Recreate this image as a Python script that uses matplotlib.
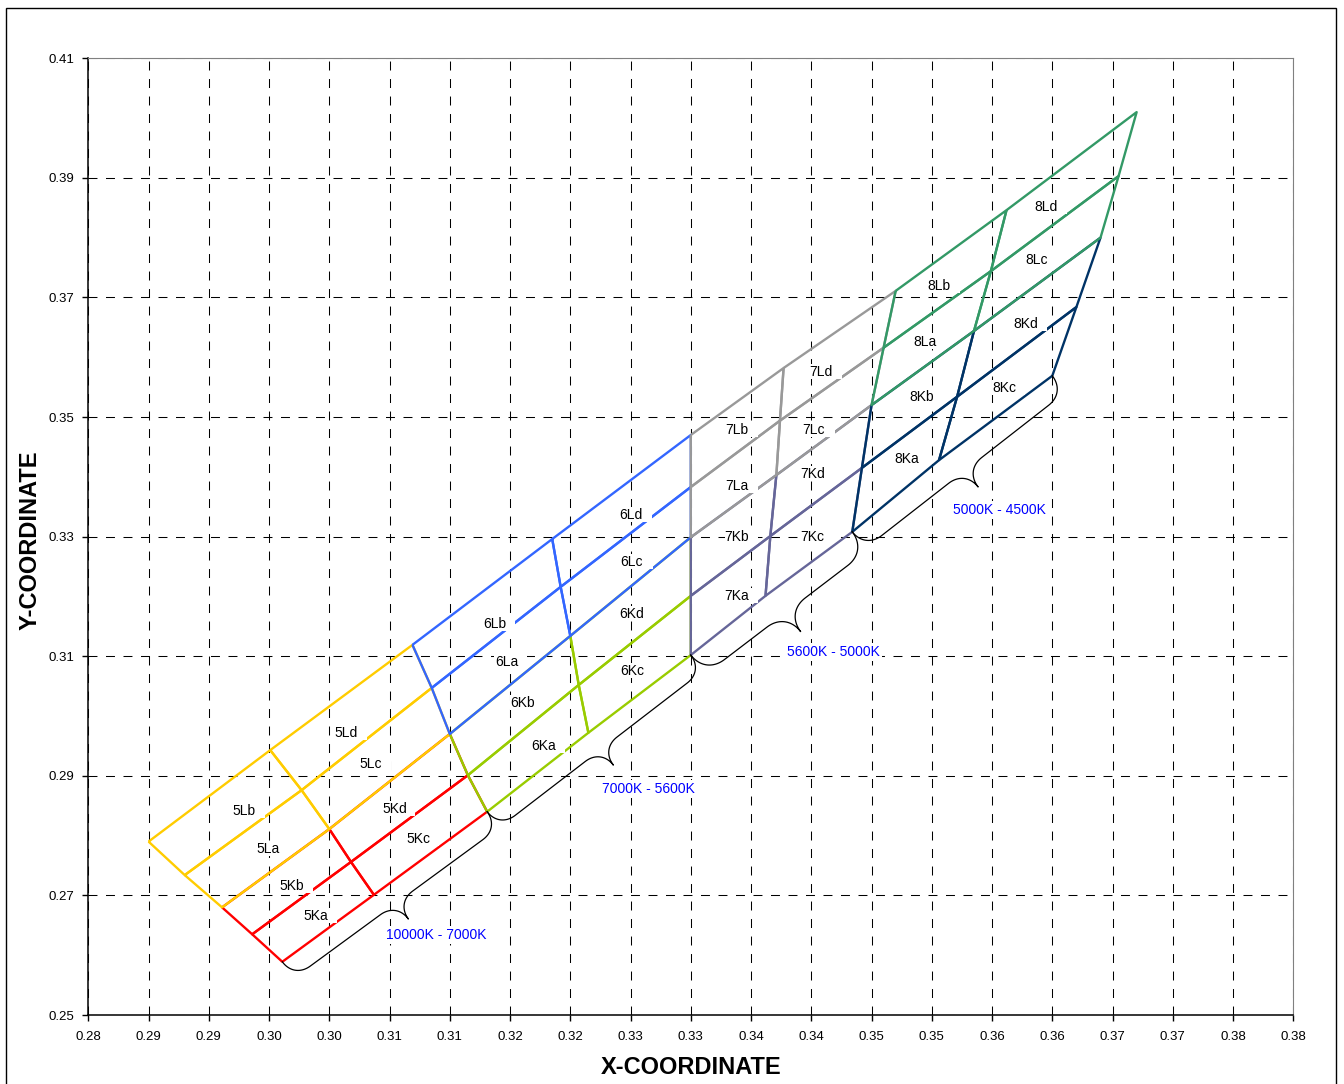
import numpy as np
import matplotlib
matplotlib.use("Agg")
import matplotlib.pyplot as plt
import matplotlib.transforms as mtransforms
from matplotlib.patches import Rectangle

plt.rcParams['font.family'] = ['Liberation Sans', 'DejaVu Sans']

# CCT boundary lines, each listed from the top edge (Lb/Ld) down to the bottom edge (Ka/Kc)
# 10000K, 5-mid, 7000K, 6-mid, 5600K, 7-mid, 5000K, 8-mid, 4500K
line_x = [
    [0.2850, 0.2880, 0.2911, 0.2936, 0.2961],
    [0.2951, 0.2977, 0.3000, 0.3018, 0.3037],
    [0.3069, 0.3085, 0.3100, 0.3115, 0.3131],
    [0.3185, 0.3192, 0.3200, 0.3207, 0.3215],
    [0.3300, 0.3300, 0.3300, 0.3300, 0.3300],
    [0.3377, 0.3374, 0.3371, 0.3366, 0.3362],
    [0.3470, 0.3460, 0.3450, 0.3442, 0.3434],
    [0.3562, 0.3549, 0.3535, 0.3521, 0.3506],
    [0.3670, 0.3655, 0.3640, 0.3620, 0.3600],
]
line_y = [
    [0.2790, 0.2734, 0.2680, 0.2635, 0.2589],
    [0.2943, 0.2876, 0.2811, 0.2756, 0.2701],
    [0.3119, 0.3047, 0.2970, 0.2901, 0.2840],
    [0.3296, 0.3216, 0.3134, 0.3052, 0.2972],
    [0.3470, 0.3383, 0.3299, 0.3201, 0.3102],
    [0.3582, 0.3494, 0.3403, 0.3301, 0.3201],
    [0.3711, 0.3616, 0.3520, 0.3415, 0.3308],
    [0.3846, 0.3744, 0.3644, 0.3534, 0.3428],
    [0.4010, 0.3903, 0.3800, 0.3684, 0.3569],
]

groups = ['5', '6', '7', '8']
k_colors = ['#FF0000', '#99CC00', '#666699', '#003366']
l_colors = ['#FFCC00', '#3366FF', '#999999', '#339966']

bin_labels = ['5Ka', '5Kb', '5Kc', '5Kd', '5La', '5Lb', '5Lc', '5Ld',
              '6Ka', '6Kb', '6Kc', '6Kd', '6La', '6Lb', '6Lc', '6Ld',
              '7Ka', '7Kb', '7Kc', '7Kd', '7La', '7Lb', '7Lc', '7Ld',
              '8Ka', '8Kb', '8Kc', '8Kd', '8La', '8Lb', '8Lc', '8Ld']
bin_label_x = [0.2989, 0.2969, 0.3074, 0.3054, 0.2949, 0.2929, 0.3034, 0.3014,
               0.3178, 0.3160, 0.3251, 0.3251, 0.3147, 0.3137, 0.3251, 0.3250,
               0.3338, 0.3338, 0.3401, 0.3401, 0.3338, 0.3338, 0.3402, 0.3408,
               0.3479, 0.3492, 0.3560, 0.3578, 0.3494, 0.3506, 0.3587, 0.3595]
bin_label_y = [0.2666, 0.2716, 0.2794, 0.2844, 0.2778, 0.2842, 0.2920, 0.2972,
               0.2950, 0.3022, 0.3075, 0.3171, 0.3091, 0.3154, 0.3258, 0.3336,
               0.3201, 0.3299, 0.3299, 0.3405, 0.3385, 0.3478, 0.3478, 0.3575,
               0.3430, 0.3534, 0.3549, 0.3656, 0.3626, 0.3719, 0.3762, 0.3851]

brace_text = ['10000K - 7000K', '7000K - 5600K', '5600K - 5000K', '5000K - 4500K']
brace_text_x = [0.3089, 0.3265, 0.3418, 0.3556]
brace_text_y = [0.2634, 0.2878, 0.3107, 0.3344]
brace_depth = [40, 40, 48, 42]  # pixels

x_tick_labels = ['0.28', '0.29', '0.29', '0.30', '0.30', '0.31', '0.31', '0.32', '0.32', '0.33', '0.33',
                 '0.34', '0.34', '0.35', '0.35', '0.36', '0.36', '0.37', '0.37', '0.38', '0.38']
y_tick_labels = ['0.25', '0.27', '0.29', '0.31', '0.33', '0.35', '0.37', '0.39', '0.41']

W, H = 1344, 1084
fig = plt.figure(figsize=(W / 100, H / 100), dpi=100)
ax = fig.add_axes([88.3 / W, 1 - 1015 / H, (1293.3 - 88.3) / W, (1015 - 58.3) / H])
ax.set_xlim(0.28, 0.38)
ax.set_ylim(0.25, 0.41)

ax.set_xticks(np.linspace(0.28, 0.38, len(x_tick_labels)))
ax.set_xticklabels(x_tick_labels, fontsize=9.5)
ax.set_yticks(np.linspace(0.25, 0.41, len(y_tick_labels)))
ax.set_yticklabels(y_tick_labels, fontsize=9.5)
ax.tick_params(axis='x', direction='out', length=4, width=1, pad=7.5)
ax.tick_params(axis='y', direction='out', length=4, width=1, pad=6)
ax.set_axisbelow(True)
ax.grid(True, color='black', lw=0.75, linestyle=(0, (8.6, 8.2)))
for s in ['top', 'right']:
    ax.spines[s].set_color('#808080')
for s in ['left', 'bottom']:
    ax.spines[s].set_color('black')
    ax.spines[s].set_linewidth(1.1)

# bins: draw K rows first then L rows, group by group
for g in range(len(groups)):
    a, m, b = 2 * g, 2 * g + 1, 2 * g + 2
    for rows, color in [((2, 3), k_colors[g]), ((0, 1), l_colors[g])]:
        for i in rows:
            for p, q in [(a, m), (m, b)]:
                xs = [line_x[p][i], line_x[p][i + 1], line_x[q][i + 1], line_x[q][i], line_x[p][i]]
                ys = [line_y[p][i], line_y[p][i + 1], line_y[q][i + 1], line_y[q][i], line_y[p][i]]
                ax.plot(xs, ys, color=color, lw=1.7, zorder=2, solid_capstyle='butt')

# labels with their white boxes (boxes reach a bit to the right / below the text)
for lab, x, y in zip(bin_labels, bin_label_x, bin_label_y):
    t = fig.dpi_scale_trans + mtransforms.ScaledTranslation(x, y, ax.transData)
    ax.add_patch(Rectangle((-0.12, -0.07), 0.33, 0.15, transform=t,
                           facecolor='white', edgecolor='none', zorder=3))
    ax.text(x, y, lab, fontsize=10, ha='center', va='center', zorder=4)


def cubic(p0, c1, c2, p3, k=24):
    p0, c1, c2, p3 = map(np.asarray, (p0, c1, c2, p3))
    t = np.linspace(0, 1, k)[:, None]
    return (1 - t) ** 3 * p0 + 3 * (1 - t) ** 2 * t * c1 + 3 * (1 - t) * t ** 2 * c2 + t ** 3 * p3


def brace(p1, p2, depth):
    P1 = ax.transData.transform(p1)
    P2 = ax.transData.transform(p2)
    d = P2 - P1
    L = np.hypot(*d)
    u = d / L
    n = np.array([u[1], -u[0]])
    r = depth / 2
    mid = L / 2
    st = np.vstack([
        cubic((0, 0), (0, 0.6 * r), (0.4 * r, r), (r, r)),
        [[mid - r, r]],
        cubic((mid - r, r), (mid - 0.4 * r, r), (mid, 1.4 * r), (mid, 2 * r)),
        cubic((mid, 2 * r), (mid, 1.4 * r), (mid + 0.4 * r, r), (mid + r, r)),
        [[L - r, r]],
        cubic((L - r, r), (L - 0.4 * r, r), (L, 0.6 * r), (L, 0)),
    ])
    pts = P1 + st[:, :1] * u + st[:, 1:] * n
    data = ax.transData.inverted().transform(pts)
    ax.plot(data[:, 0], data[:, 1], color='black', lw=0.9, zorder=2.5)


for g in range(len(groups)):
    p1 = (line_x[2 * g][4], line_y[2 * g][4])
    p2 = (line_x[2 * g + 2][4], line_y[2 * g + 2][4])
    brace(p1, p2, brace_depth[g])
    ax.text(brace_text_x[g], brace_text_y[g], brace_text[g], color='#0000FF', fontsize=10,
            ha='center', va='center', zorder=4,
            bbox=dict(boxstyle='square,pad=0.15', facecolor='white', edgecolor='none'))

fig.text(691 / W, 1 - 1068 / H, 'X-COORDINATE', fontsize=17, fontweight='bold', ha='center', va='center')
fig.text(30 / W, 1 - 540 / H, 'Y-COORDINATE', fontsize=17, fontweight='bold', ha='center', va='center',
         rotation=90)

fig.patches.append(Rectangle((6 / W, -0.02), (1336 - 6) / W, 1 - 8 / H + 0.02, transform=fig.transFigure,
                             fill=False, edgecolor='black', lw=1.0))

fig.savefig('out.png', dpi=100)
